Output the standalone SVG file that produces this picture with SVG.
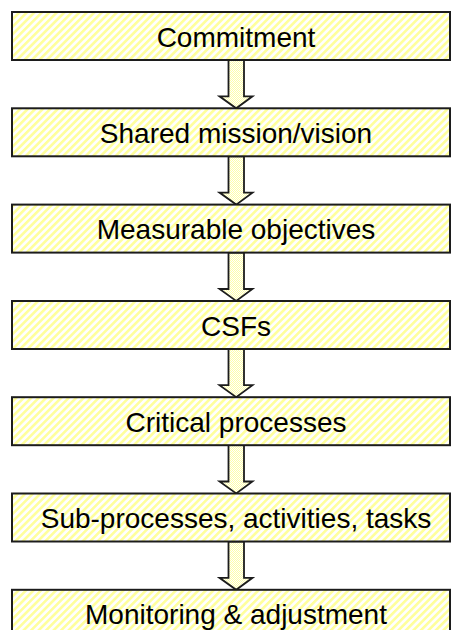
<svg xmlns="http://www.w3.org/2000/svg" width="451" height="630" viewBox="0 0 451 630">
<defs>
<pattern id="stripes" width="5.3" height="10" patternUnits="userSpaceOnUse" patternTransform="rotate(45)">
<rect width="5.3" height="10" fill="#ffffff"/>
<rect width="2.6" height="10" fill="#ffff9c"/>
</pattern>
<pattern id="checker" width="2" height="2" patternUnits="userSpaceOnUse">
<rect width="2" height="2" fill="#ffffff"/>
<rect width="1" height="1" fill="#ffffa8"/>
<rect x="1" y="1" width="1" height="1" fill="#ffffa8"/>
</pattern>
</defs>
<style>
.box{fill:url(#stripes);stroke:#1c1c1c;stroke-width:2}
.lbl{font-family:"Liberation Sans",Arial,sans-serif;font-size:28px;fill:#000;text-anchor:middle}
.arr{fill:url(#checker);stroke:#1c1c1c;stroke-width:1.8;stroke-linejoin:miter}
</style>
<rect width="451" height="630" fill="#ffffff"/>
<g id="connectors">
<polygon class="arr" points="228.5,60 244,60 244,96.3 252.5,96.3 236.2,108.3 219.5,96.3 228.5,96.3"/>
<polygon class="arr" points="228.5,156.3 244,156.3 244,192.6 252.5,192.6 236.2,204.6 219.5,192.6 228.5,192.6"/>
<polygon class="arr" points="228.5,252.6 244,252.6 244,289 252.5,289 236.2,301 219.5,289 228.5,289"/>
<polygon class="arr" points="228.5,349 244,349 244,385.2 252.5,385.2 236.2,397.2 219.5,385.2 228.5,385.2"/>
<polygon class="arr" points="228.5,445.2 244,445.2 244,481.5 252.5,481.5 236.2,493.5 219.5,481.5 228.5,481.5"/>
<polygon class="arr" points="228.5,541.5 244,541.5 244,577.8 252.5,577.8 236.2,589.8 219.5,577.8 228.5,577.8"/>
</g>
<g id="n1"><rect class="box" x="12" y="12" width="438" height="48"/><text class="lbl" x="236" y="46.5">Commitment</text></g>
<g id="n2"><rect class="box" x="12" y="108.3" width="438" height="48"/><text class="lbl" x="236" y="142.8">Shared mission/vision</text></g>
<g id="n3"><rect class="box" x="12" y="204.6" width="438" height="48"/><text class="lbl" x="236" y="239.1">Measurable objectives</text></g>
<g id="n4"><rect class="box" x="12" y="301" width="438" height="48"/><text class="lbl" x="236" y="335.5">CSFs</text></g>
<g id="n5"><rect class="box" x="12" y="397.2" width="438" height="48"/><text class="lbl" x="236" y="431.7">Critical processes</text></g>
<g id="n6"><rect class="box" x="12" y="493.5" width="438" height="48"/><text class="lbl" x="236" y="528">Sub-processes, activities, tasks</text></g>
<g id="n7"><rect class="box" x="12" y="589.8" width="438" height="48"/><text class="lbl" x="236" y="624.3">Monitoring &amp; adjustment</text></g>
</svg>
